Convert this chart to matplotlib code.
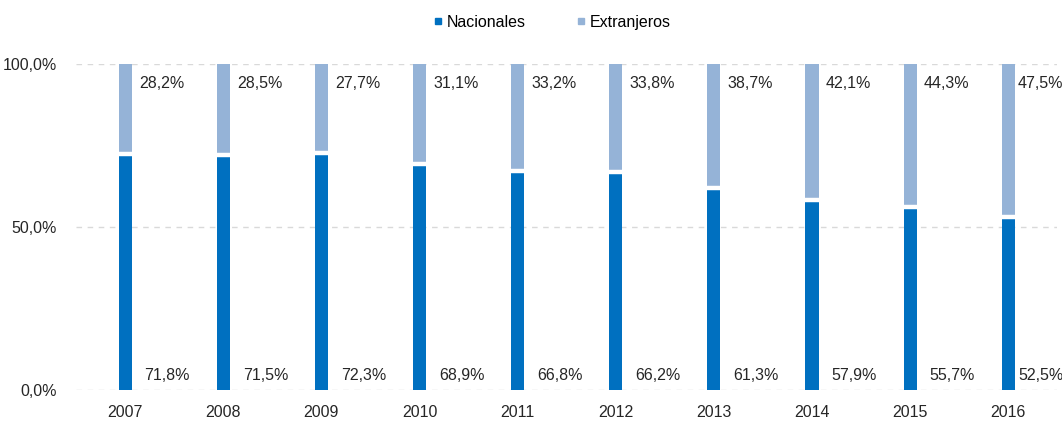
import matplotlib.pyplot as plt
from matplotlib.lines import Line2D

years = ['2007', '2008', '2009', '2010', '2011', '2012', '2013', '2014', '2015', '2016']
nacionales = [71.8, 71.5, 72.3, 68.9, 66.8, 66.2, 61.3, 57.9, 55.7, 52.5]
extranjeros = [28.2, 28.5, 27.7, 31.1, 33.2, 33.8, 38.7, 42.1, 44.3, 47.5]

plt.rcParams['font.family'] = ['Liberation Sans', 'DejaVu Sans']

c_nac = '#0070C0'
c_ext = '#95B3D7'
txt = '#262626'
fs = 11.5

fig = plt.figure(figsize=(10.62, 4.23), dpi=100)
ax = fig.add_axes([0.0716, 0.078, 0.924, 0.771])

x = list(range(len(years)))
w = 0.133
ax.bar(x, nacionales, width=w, color=c_nac, zorder=3)
ax.bar(x, extranjeros, width=w, bottom=nacionales, color=c_ext, zorder=3)
# white gap between the two segments
ax.hlines([v + 0.5 for v in nacionales], [i - w / 2 for i in x], [i + w / 2 for i in x],
          color='white', linewidth=3.2, zorder=4)

def fmt(v):
    return f'{v:.1f}'.replace('.', ',') + '%'

for i in x:
    ax.text(min(i + 0.37, 9.33), 94.1, fmt(extranjeros[i]), ha='center', va='center',
            fontsize=fs, color=txt)
    ax.text(min(i + 0.43, 9.33), 4.35, fmt(nacionales[i]), ha='center', va='center',
            fontsize=fs, color=txt)

ax.set_xlim(-0.5, 9.5)
ax.set_ylim(0, 100)
ax.set_yticks([0, 50, 100])
ax.set_yticklabels(['0,0%', '50,0%', '100,0%'])
ax.set_xticks(x)
ax.set_xticklabels(years)
ax.tick_params(length=0, labelsize=fs, colors=txt)
ax.tick_params(axis='y', pad=14)
ax.tick_params(axis='x', pad=11)
for s in ax.spines.values():
    s.set_visible(False)
ax.yaxis.grid(True, color='#D9D9D9', linestyle=(0, (4, 4)), linewidth=1, zorder=0)
ax.set_axisbelow(True)

handles = [Line2D([], [], marker='s', linestyle='', color=c_nac, markersize=4.5),
           Line2D([], [], marker='s', linestyle='', color=c_ext, markersize=4.5)]
fig.legend(handles, ['Nacionales', 'Extranjeros'], loc='center', bbox_to_anchor=(0.519, 0.947),
           ncol=2, frameon=False, fontsize=fs, handletextpad=0.2, columnspacing=3.0,
           handlelength=0.8)

fig.savefig('out.png', dpi=100)
